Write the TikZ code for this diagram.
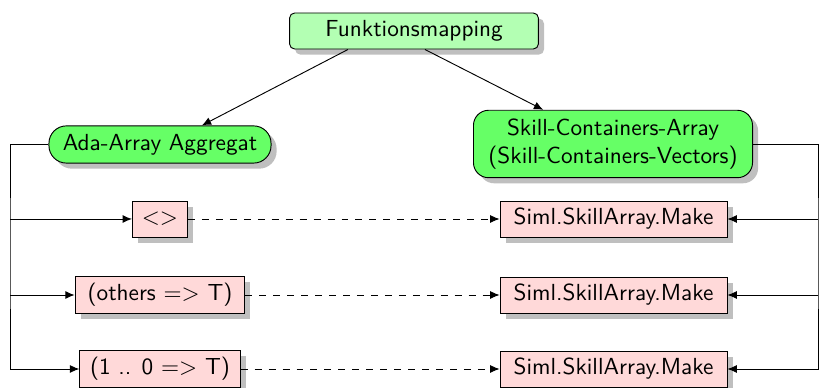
\documentclass[tikz,border=0pt]{standalone}
\usetikzlibrary{arrows.meta,shadows}
\definecolor{lightgreen}{HTML}{B3FFB3}
\definecolor{brightgreen}{HTML}{66FF66}
\definecolor{lightpink}{HTML}{FFD9D9}
\tikzset{
  base/.style={draw=black, line width=0.4pt, font=\sffamily, align=center, inner sep=3pt,
    drop shadow={shadow xshift=2.4pt, shadow yshift=-2.4pt, fill=black!25, opacity=1}},
  topbox/.style={base, fill=lightgreen, rounded corners=2.2pt, minimum width=107pt, minimum height=15.5pt},
  groupbox/.style={base, fill=brightgreen},
  itembox/.style={base, fill=lightpink, minimum height=15.5pt},
  arr/.style={-{Latex[length=4pt,width=3.4pt]}, line width=0.4pt},
}
\begin{document}
\begin{tikzpicture}[x=0.43pt, y=-0.43pt]
  \useasboundingbox (0,0) rectangle (819,388);

  % title and the two groups
  \node[topbox] (fm) at (414,31) {Funktionsmapping};
  \node[groupbox, rounded corners=7.5pt, minimum width=95.5pt, minimum height=16pt] (ada) at (160,144.5) {Ada-Array Aggregat};
  \node[groupbox, rounded corners=6.5pt, minimum width=120pt, minimum height=29pt] (skill) at (613,144) {Skill-Containers-Array\\(Skill-Containers-Vectors)};

  % aggregate forms on the left
  \node[itembox, minimum width=23.7pt] (r1l) at (160,219) {$<>$};
  \node[itembox, minimum width=73pt] (r2l) at (160,295) {(others $=>$ T)};
  \node[itembox, minimum width=69pt] (r3l) at (160,369) {(1 .. 0 $=>$ T)};

  % constructors on the right
  \node[itembox, minimum width=97.6pt] (r1r) at (613.5,219) {Siml.SkillArray.Make};
  \node[itembox, minimum width=97.6pt] (r2r) at (613.5,295) {Siml.SkillArray.Make};
  \node[itembox, minimum width=97.6pt] (r3r) at (613.5,369) {Siml.SkillArray.Make};

  % trunk positions
  \coordinate (trunkL) at (10,250);
  \coordinate (trunkR) at (818,250);

  % from the title to the groups
  \draw[arr] ([xshift=-28.4pt]fm.south) -- ([xshift=18pt]ada.north);
  \draw[arr] ([xshift=4.7pt]fm.south) -- ([xshift=-30pt]skill.north);

  % left trunk
  \draw[arr] (ada.west) -| (trunkL) |- (r3l.west);
  \draw[arr] (r1l.west -| trunkL) -- (r1l.west);
  \draw[arr] (r2l.west -| trunkL) -- (r2l.west);

  % right trunk
  \draw[arr] (skill.east) -| (trunkR) |- (r3r.east);
  \draw[arr] (r1r.east -| trunkR) -- (r1r.east);
  \draw[arr] (r2r.east -| trunkR) -- (r2r.east);

  % mappings
  \draw[arr, dashed] (r1l.east) -- (r1r.west);
  \draw[arr, dashed] (r2l.east) -- (r2r.west);
  \draw[arr, dashed] (r3l.east) -- (r3r.west);
\end{tikzpicture}
\end{document}
